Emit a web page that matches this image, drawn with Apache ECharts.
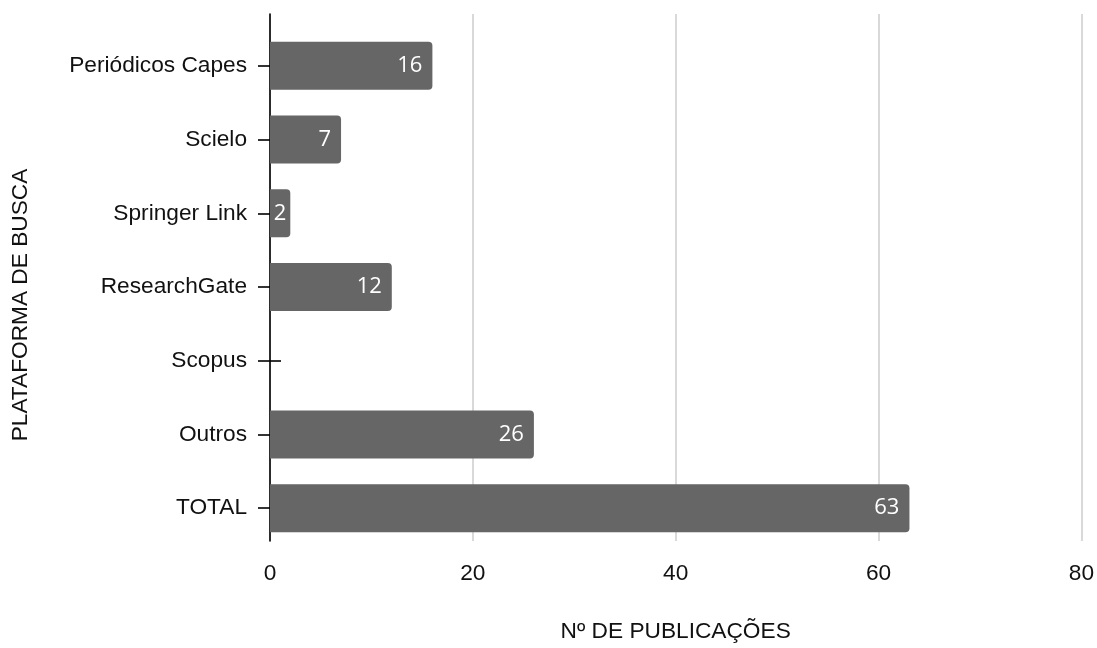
<!DOCTYPE html>
<html>
<head>
<meta charset="utf-8">
<script src="https://cdn.jsdelivr.net/npm/echarts@6/dist/echarts.min.js"></script>
<style>
  html, body { margin: 0; padding: 0; background: #fff; }
  #chart { width: 1097px; height: 648px; }
</style>
</head>
<body>
<div id="chart"></div>
<script>
// Publications found per search platform
const categories = ['Periódicos Capes', 'Scielo', 'Springer Link', 'ResearchGate', 'Scopus', 'Outros', 'TOTAL'];
const publications = [16, 7, 2, 12, 0, 26, 63];
const xTicks = [0, 20, 40, 60, 80];
const xTitle = 'Nº DE PUBLICAÇÕES';
const yTitle = 'PLATAFORMA DE BUSCA';

const chart = echarts.init(document.getElementById('chart'), null, { renderer: 'canvas' });

const labelFont = 'Liberation Sans, Arial, Helvetica, sans-serif';
const textColor = '#111111';
const barColor = '#666666';

// bar entries; very short bars get their value centred inside the bar
const barData = publications.map(v => {
  const item = { value: v };
  if (v > 0 && v < 4) {
    item.label = { position: 'inside', distance: 0 };
  }
  return item;
});

const option = {
  backgroundColor: '#ffffff',
  animation: false,
  grid: [
    // frame: vertical gridlines, value labels and the left axis line
    { left: 270, right: 15, top: 14, bottom: 91 },
    // bars
    { left: 270, right: 15, top: 29, bottom: 103 }
  ],
  xAxis: [
    {
      gridIndex: 0,
      type: 'value',
      min: xTicks[0],
      max: xTicks[xTicks.length - 1],
      interval: xTicks[1] - xTicks[0],
      axisLine: { show: false },
      axisTick: { show: false },
      splitLine: { show: true, lineStyle: { color: '#cccccc', width: 1.5 } },
      axisLabel: { fontFamily: labelFont, fontSize: 22.7, color: textColor, margin: 21 },
      name: xTitle,
      nameLocation: 'middle',
      nameGap: 79,
      nameTextStyle: { fontFamily: labelFont, fontSize: 22.7, color: textColor }
    },
    {
      gridIndex: 1,
      type: 'value',
      min: xTicks[0],
      max: xTicks[xTicks.length - 1],
      show: false
    }
  ],
  yAxis: [
    {
      gridIndex: 0,
      type: 'value',
      position: 'left',
      min: 0,
      max: 1,
      axisLine: { show: true, onZero: false, lineStyle: { color: '#000000', width: 1.6 } },
      axisTick: { show: false },
      axisLabel: { show: false },
      splitLine: { show: false }
    },
    {
      gridIndex: 1,
      type: 'category',
      position: 'left',
      data: categories,
      inverse: true,
      axisLine: { show: false },
      axisTick: { show: true, alignWithLabel: true, length: 12, lineStyle: { color: '#000000', width: 1.6 } },
      axisLabel: { fontFamily: labelFont, fontSize: 22.7, color: textColor, margin: 23 },
      splitLine: { show: false }
    },
    {
      // inner half of the tick marks
      gridIndex: 1,
      type: 'category',
      position: 'left',
      offset: 0,
      data: categories,
      inverse: true,
      axisLine: { show: false },
      axisTick: { show: true, inside: true, alignWithLabel: true, length: 11, lineStyle: { color: '#000000', width: 1.6 } },
      axisLabel: { show: false },
      splitLine: { show: false }
    }
  ],
  graphic: [
    {
      type: 'text',
      x: 21,
      y: 305,
      rotation: Math.PI / 2,
      style: {
        text: yTitle,
        font: '22.7px ' + labelFont,
        fill: textColor,
        textAlign: 'center',
        textVerticalAlign: 'middle'
      }
    }
  ],
  series: [
    {
      type: 'bar',
      xAxisIndex: 1,
      yAxisIndex: 1,
      data: barData,
      barWidth: 48,
      itemStyle: { color: barColor, borderRadius: [0, 4, 4, 0] },
      label: {
        show: true,
        position: 'insideRight',
        distance: 10,
        color: '#ffffff',
        fontFamily: 'Open Sans, Noto Sans, sans-serif',
        fontSize: 22,
        formatter: p => (p.value > 0 ? String(p.value) : '')
      }
    }
  ]
};

chart.setOption(option);
</script>
</body>
</html>
